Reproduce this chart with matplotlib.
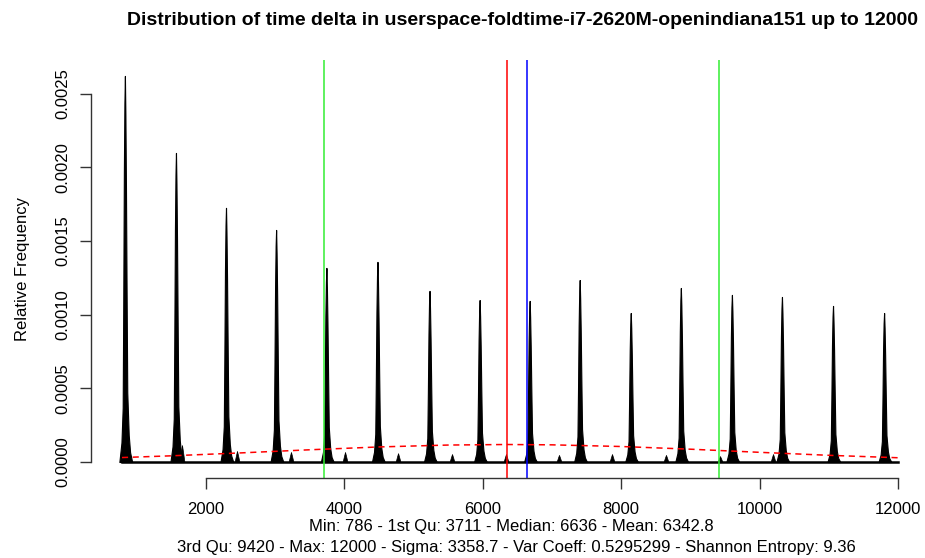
import matplotlib
matplotlib.use("Agg")
import matplotlib.pyplot as plt
import numpy as np

# main spikes: position (time delta) and peak relative frequency
peak_pos = [828, 1566, 2289, 3013, 3740, 4478, 5230, 5954, 6677, 7400,
            8138, 8862, 9600, 10323, 11061, 11799]
peak_height = [0.002622, 0.002099, 0.001726, 0.001576, 0.001318, 0.001359,
               0.001162, 0.001100, 0.001094, 0.001236, 0.001012, 0.001182,
               0.001135, 0.001121, 0.001060, 0.001012]

# small side bumps
bump_pos = [1653, 2448, 3228, 4009, 4775, 5555, 6335, 7101, 7867, 8647, 9428, 10194]
bump_height = [0.000115, 0.000075, 0.000068, 0.000068, 0.000060, 0.000054,
               0.000054, 0.000048, 0.000054, 0.000048, 0.000040, 0.000054]

# shape of one spike (offset in time units, fraction of peak)
spike_offset = [-80, -50, -32, -24, -15, -7, 0, 7, 15, 24, 34, 55, 75, 105]
spike_rel = [0.0, 0.05, 0.14, 0.40, 0.75, 0.93, 1.0, 0.9, 0.72, 0.45, 0.18, 0.07, 0.025, 0.0]
bump_offset = [-35, -15, 0, 15, 35]
bump_rel = [0.0, 0.6, 1.0, 0.6, 0.0]

# normal curve (red dashed)
norm_x = [786, 1500, 2500, 3500, 4500, 5500, 6343, 7000, 8000, 9000, 10000, 11000, 12000]
norm_y = [3.02e-5, 4.20e-5, 6.17e-5, 8.30e-5, 1.022e-4, 1.151e-4, 1.188e-4,
          1.165e-4, 1.052e-4, 8.69e-5, 6.57e-5, 4.54e-5, 2.88e-5]

q1, median, mean, q3 = 3711, 6636, 6342.8, 9420
x_min, x_max = 786, 12000

title = "Distribution of time delta in userspace-foldtime-i7-2620M-openindiana151 up to 12000"
stats1 = "Min: 786 - 1st Qu: 3711 - Median: 6636 - Mean: 6342.8"
stats2 = "3rd Qu: 9420 - Max: 12000 - Sigma: 3358.7 - Var Coeff: 0.5295299 - Shannon Entropy: 9.36"


def main():
    plt.rcParams["font.family"] = ["Liberation Sans", "DejaVu Sans"]
    fig = plt.figure(figsize=(9.25, 5.58), dpi=100)
    ax = fig.add_axes([91 / 925, 80 / 558, 834 / 925, 418 / 558])

    for p, h in zip(peak_pos, peak_height):
        xs = np.array(spike_offset) + p
        ys = np.array(spike_rel) * h
        ax.fill_between(xs, 0, ys, color="black", linewidth=0.8, edgecolor="black")
    for p, h in zip(bump_pos, bump_height):
        xs = np.array(bump_offset) + p
        ys = np.array(bump_rel) * h
        ax.fill_between(xs, 0, ys, color="black", linewidth=0.5, edgecolor="black")
    ax.plot([x_min, x_max], [0, 0], color="black", linewidth=1.8)

    ax.plot(norm_x, norm_y, color="red", linestyle=(0, (4, 3)), linewidth=1.1)

    ax.axvline(q1, color="#33ee33", linewidth=1.1)
    ax.axvline(q3, color="#33ee33", linewidth=1.1)
    ax.axvline(mean, color="red", linewidth=1.1)
    ax.axvline(median, color="blue", linewidth=1.1)

    ax.set_xlim(338, 12390)
    ax.set_ylim(-0.0001087, 0.002730)

    for s in ["top", "right"]:
        ax.spines[s].set_visible(False)
    ax.spines["left"].set_bounds(0, 0.0025)
    ax.spines["bottom"].set_bounds(2000, 12000)
    for s in ["left", "bottom"]:
        ax.spines[s].set_color("#333333")
        ax.spines[s].set_linewidth(1.0)

    ax.set_xticks([2000, 4000, 6000, 8000, 10000, 12000])
    ax.set_yticks([0, 0.0005, 0.001, 0.0015, 0.002, 0.0025])
    ax.set_yticklabels(["0.0000", "0.0005", "0.0010", "0.0015", "0.0020", "0.0025"],
                       rotation=90, va="center")
    ax.tick_params(axis="both", length=8, width=1.0, color="#333333", labelsize=12)
    ax.tick_params(axis="x", pad=9)
    ax.tick_params(axis="y", pad=7)

    ax.set_ylabel("Relative Frequency", fontsize=12, labelpad=18)
    fig.text(0.5649, 0.963, title, ha="center", va="center", fontsize=14, fontweight="bold")
    fig.text(0.553, 0.0556, stats1, ha="center", va="center", fontsize=12)
    fig.text(0.5584, 0.018, stats2, ha="center", va="center", fontsize=12)

    fig.savefig("out.png", dpi=100)


if __name__ == "__main__":
    main()
